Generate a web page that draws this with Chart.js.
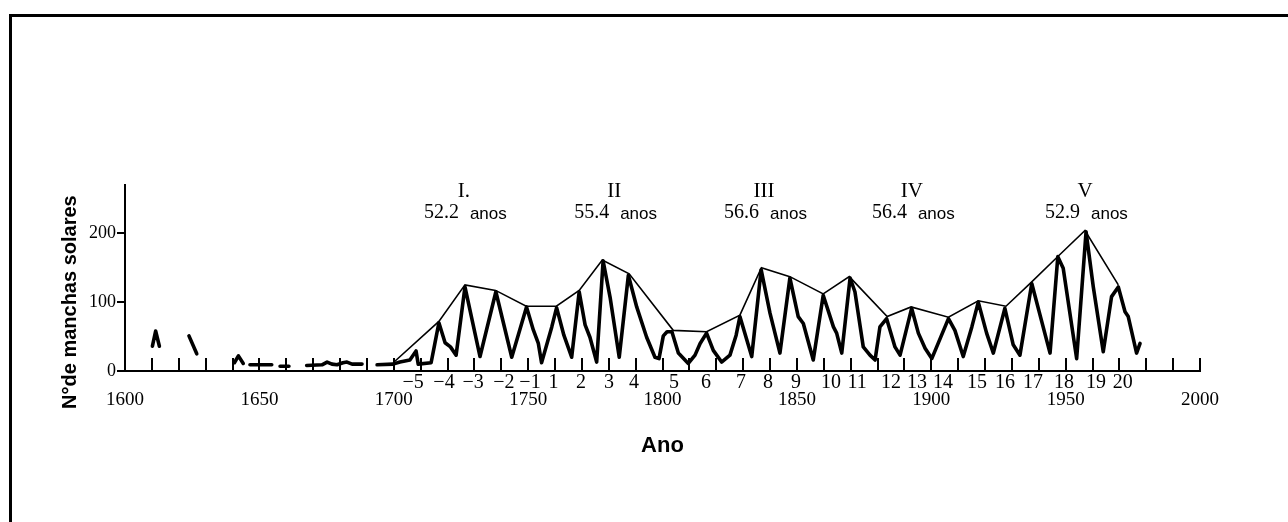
<!DOCTYPE html>
<html lang="pt">
<head>
<meta charset="utf-8">
<title>Manchas solares</title>
<script src="https://cdn.jsdelivr.net/npm/chart.js@4.4.0/dist/chart.umd.min.js"></script>
<style>
  html, body { margin: 0; padding: 0; background: #fff; }
  body { position: relative; width: 1288px; height: 522px; overflow: hidden; }
  #moldura { position: absolute; left: 9px; top: 14px; width: 1400px; height: 600px;
             border-top: 3px solid #000; border-left: 3px solid #000; }
  #grafico { position: absolute; left: 0; top: 0; }
</style>
</head>
<body>
<div id="moldura"></div>
<canvas id="grafico" width="1288" height="522"></canvas>
<script>
// numero de manchas solares (null = lacuna no registro)
const anos = [
  1610.2, 1611.4, 1612.8, 1618,
  1623.8, 1626.7, 1633,
  1640.7, 1642.2, 1644.0, 1645,
  1646.5, 1654.6, 1656,
  1657.7, 1661.0, 1664,
  1667.6, 1673.3, 1675.2, 1677.0, 1678.9, 1681.1, 1682.6, 1684.5, 1688.2, 1690,
  1693.8, 1699.7, 1702.3, 1706.0, 1708.3, 1709.1, 1713.9, 1715.2, 1716.8, 1719.1,
  1721.1, 1723.2, 1726.5, 1732.1, 1738.0, 1743.9, 1749.4, 1751.9, 1753.8, 1755.0,
  1758.8, 1760.6, 1763.3, 1766.2, 1769.0, 1771.2, 1773.0, 1775.5, 1777.9, 1780.5,
  1783.9, 1787.3, 1790.4, 1794.1, 1797.2, 1798.7, 1800.3, 1801.7, 1803.5, 1805.9,
  1809.6, 1812.1, 1814.0, 1816.4, 1818.9, 1822.0, 1825.1, 1827.4, 1828.8, 1833.2,
  1836.7, 1840.0, 1843.7, 1847.4, 1850.5, 1852.4, 1856.1, 1859.8, 1863.6, 1864.8,
  1866.7, 1869.8, 1871.6, 1874.7, 1877.2, 1879.1, 1880.9, 1883.4, 1886.5, 1888.4,
  1892.7, 1895.2, 1897.7, 1900.2, 1906.4, 1908.8, 1911.9, 1915.1, 1917.5, 1920.6,
  1923.1, 1927.4, 1930.5, 1933.0, 1937.4, 1944.2, 1947.1, 1949.1, 1954.1, 1957.6,
  1960.3, 1964.0, 1967.1, 1969.6, 1972.1, 1973.3, 1976.4, 1977.7
];
const manchas = [
  36, 58, 36, null,
  51, 25, null,
  12, 22, 11, null,
  9, 9, null,
  7, 7, null,
  8, 9, 13, 10, 9, 12, 13, 10, 10, null,
  9, 10, 13, 16, 29, 10, 12, 38, 70, 41,
  35, 23, 122, 21, 115, 20, 93, 60, 40, 12,
  64, 92, 52, 20, 115, 67, 49, 13, 160, 107,
  20, 139, 93, 49, 20, 18, 51, 57, 57, 26,
  11, 23, 40, 55, 30, 13, 23, 52, 79, 21,
  147, 84, 26, 135, 79, 69, 16, 110, 64, 55,
  26, 135, 115, 35, 23, 16, 64, 76, 35, 23,
  91, 55, 33, 18, 76, 59, 21, 64, 100, 55,
  26, 91, 38, 23, 127, 26, 166, 149, 18, 202,
  122, 28, 108, 122, 86, 79, 26, 40
];

// envoltoria ligando os maximos
const anosEnvoltoria = [1699.8, 1716.8, 1726.5, 1737.9, 1749.3, 1760.5, 1769.0, 1777.6, 1787.6,
  1804.0, 1816.4, 1828.8, 1836.8, 1847.4, 1859.8, 1869.5, 1883.6, 1892.5, 1906.4, 1917.5,
  1927.8, 1937.0, 1947.3, 1957.2, 1969.6];
const envoltoria = [12, 72, 125, 117, 94, 94, 117, 161, 141,
  59, 57, 81, 150, 137, 112, 137, 79, 93, 78, 102,
  94, 128, 167, 204, 125];

// numeracao dos ciclos sob o eixo
const anosCiclos = [1707.2, 1718.7, 1729.5, 1741.0, 1750.7, 1759.4, 1769.7, 1780.1, 1789.4,
  1804.3, 1816.2, 1829.2, 1839.3, 1849.7, 1862.7, 1872.4, 1885.0, 1894.7, 1904.4, 1917.0,
  1927.4, 1937.9, 1949.4, 1961.3, 1971.3];
const ciclos = ['\u22125', '\u22124', '\u22123', '\u22122', '\u22121', '1', '2', '3', '4',
  '5', '6', '7', '8', '9', '10', '11', '12', '13', '14', '15',
  '16', '17', '18', '19', '20'];

const anosEixo = [1600, 1650, 1700, 1750, 1800, 1850, 1900, 1950, 2000];
const marcasY = [0, 100, 200];

// periodos longos
const anosPeriodos = [1726.1, 1782.0, 1837.8, 1892.8, 1957.2];
const numerais = ['I.', 'II', 'III', 'IV', 'V'];
const periodos = ['52.2', '55.4', '56.6', '56.4', '52.9'];

const pontos = anos.map((a, i) => ({ x: a, y: manchas[i] }));
const pontosEnv = anosEnvoltoria.map((a, i) => ({ x: a, y: envoltoria[i] }));

const serif = 'Liberation Serif';
const sans = 'Liberation Sans';

// marcas de decada, rotulos dos periodos e titulo vertical
const anotacoes = {
  id: 'anotacoes',
  afterDraw(chart) {
    const ctx = chart.ctx;
    const sx = chart.scales.x;
    const sy = chart.scales.y;
    const base = sy.getPixelForValue(0);
    ctx.save();
    ctx.strokeStyle = '#000';
    ctx.lineWidth = 2;
    for (let a = 1610; a <= 2000; a += 10) {
      const px = Math.round(sx.getPixelForValue(a));
      ctx.beginPath();
      ctx.moveTo(px, base);
      ctx.lineTo(px, base - 13);
      ctx.stroke();
    }

    ctx.fillStyle = '#000';
    ctx.textBaseline = 'middle';
    anosPeriodos.forEach((a, i) => {
      const px = sx.getPixelForValue(a);
      ctx.font = '21px "' + serif + '"';
      ctx.textAlign = 'center';
      ctx.fillText(numerais[i], px, sy.getPixelForValue(261));
      ctx.font = '20px "' + serif + '"';
      ctx.textAlign = 'right';
      ctx.fillText(periodos[i], px - 5, sy.getPixelForValue(230));
      ctx.font = '17px "' + sans + '"';
      ctx.textAlign = 'left';
      ctx.fillText('anos', px + 6, sy.getPixelForValue(228));
    });

    ctx.translate(chart.chartArea.left - 55, sy.getPixelForValue(100));
    ctx.rotate(-Math.PI / 2);
    ctx.font = 'bold 20px "' + sans + '"';
    ctx.textAlign = 'center';
    ctx.fillText('N\u00b0de manchas solares', 0, 0);
    ctx.restore();
  }
};

const ctx = document.getElementById('grafico').getContext('2d');
const chart = new Chart(ctx, {
  type: 'line',
  data: {
    datasets: [
      {
        label: 'envoltoria',
        data: pontosEnv,
        borderColor: '#000',
        borderWidth: 1.6,
        pointRadius: 0,
        tension: 0,
        fill: false
      },
      {
        label: 'manchas',
        data: pontos,
        borderColor: '#000',
        borderWidth: 3.6,
        borderJoinStyle: 'round',
        borderCapStyle: 'round',
        pointRadius: 0,
        tension: 0,
        spanGaps: false,
        fill: false
      }
    ]
  },
  options: {
    responsive: false,
    animation: false,
    devicePixelRatio: 1,
    layout: { padding: { left: 0, right: 88, top: 185, bottom: 63 } },
    plugins: { legend: { display: false }, tooltip: { enabled: false } },
    scales: {
      x: {
        type: 'linear',
        position: 'bottom',
        weight: 1,
        min: 1600,
        max: 2000,
        afterBuildTicks: s => { s.ticks = anosEixo.map(v => ({ value: v })); },
        afterFit: s => { s.height = 68; },
        grid: { display: false, drawTicks: false },
        border: { display: false },
        ticks: {
          autoSkip: false, maxRotation: 0, minRotation: 0, padding: -2, color: '#000',
          font: { family: serif, size: 19 },
          callback: v => String(v)
        },
        title: {
          display: true, text: 'Ano', color: '#000',
          font: { family: sans, size: 22, weight: 'bold' },
          padding: { top: 0, bottom: 0 }
        }
      },
      ciclo: {
        type: 'linear',
        position: 'bottom',
        weight: 0,
        min: 1600,
        max: 2000,
        afterBuildTicks: s => { s.ticks = anosCiclos.map(v => ({ value: v })); },
        afterFit: s => { s.height = 20; },
        grid: { display: false, drawTicks: false },
        border: { display: true, color: '#000', width: 2 },
        ticks: {
          autoSkip: false, maxRotation: 0, minRotation: 0, padding: 0, color: '#000',
          font: { family: serif, size: 20 },
          callback: (v, i) => ciclos[i]
        }
      },
      y: {
        type: 'linear',
        min: 0,
        max: 270,
        afterBuildTicks: s => { s.ticks = marcasY.map(v => ({ value: v })); },
        afterFit: s => { s.width = 125; },
        grid: { display: true, drawOnChartArea: false, drawTicks: true, tickLength: 8, color: '#000', lineWidth: 2 },
        border: { display: true, color: '#000', width: 2 },
        ticks: { padding: 1, color: '#000', font: { family: serif, size: 18 } }
      }
    }
  },
  plugins: [anotacoes]
});
</script>
</body>
</html>
